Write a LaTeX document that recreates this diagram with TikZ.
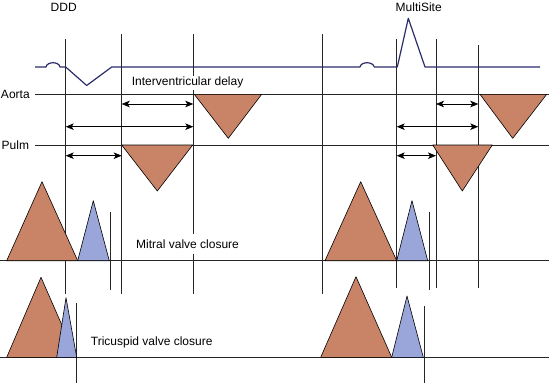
\documentclass[tikz,border=0pt]{standalone}
\usepackage{fontspec}
\setmainfont{Liberation Sans}
\usetikzlibrary{arrows.meta}
\definecolor{valveorange}{HTML}{C98467}
\definecolor{valveblue}{HTML}{9AA6DA}
\definecolor{ecgnavy}{HTML}{2B2D6B}
\begin{document}
\begin{tikzpicture}[x=1pt,y=-1pt,
  guide/.style={draw=black!85, line width=0.8pt},
  ecg/.style={draw=ecgnavy, line width=1.2pt, line join=round},
  wave/.style={draw=black, line width=0.6pt, fill=valveorange, line join=round},
  bluewave/.style={draw=black, line width=0.6pt, fill=valveblue, line join=round},
  lbl/.style={font=\fontsize{12}{14}\selectfont, inner sep=0pt, anchor=base west},
  twoway/.style={draw=black, line width=0.8pt,
    {Stealth[length=8pt,width=6.5pt,inset=2pt]}-{Stealth[length=8pt,width=6.5pt,inset=2pt]}}]
\useasboundingbox (0,0) rectangle (549,383);

% ---- coordinates of guide lines
\coordinate (v1t) at (65.7,39);   \coordinate (v1b) at (65.7,294);
\coordinate (v2t) at (121.7,34);  \coordinate (v2b) at (121.7,294);
\coordinate (v3t) at (193.3,34);  \coordinate (v3b) at (193.3,294);
\coordinate (v4t) at (322.7,34);  \coordinate (v4b) at (322.7,294);
\coordinate (v5t) at (396.7,39);  \coordinate (v5b) at (396.7,288);
\coordinate (v6t) at (436,39);    \coordinate (v6b) at (436,288);
\coordinate (v7t) at (478.3,45);  \coordinate (v7b) at (478.3,288);
\coordinate (mlt) at (110,211.7); \coordinate (mlb) at (110,290);
\coordinate (mrt) at (429.3,211.7); \coordinate (mrb) at (429.3,290);
\coordinate (tlt) at (76.7,303.3); \coordinate (tlb) at (76.7,383);
\coordinate (trt) at (424,306);   \coordinate (trb) at (424,383);
\coordinate (aol) at (35,94.3);   \coordinate (aor) at (549,94.3);
\coordinate (pul) at (35,145);    \coordinate (pur) at (549,145);
\coordinate (mil) at (0,260.7);   \coordinate (mir) at (549,260.7);
\coordinate (tril) at (0,357.3);  \coordinate (trir) at (549,357.3);

\foreach \a/\b in {v1t/v1b,v2t/v2b,v3t/v3b,v4t/v4b,v5t/v5b,v6t/v6b,v7t/v7b,
                   mlt/mlb,mrt/mrb,tlt/tlb,trt/trb,aol/aor,pul/pur,mil/mir,tril/trir}
  \draw[guide] (\a) -- (\b);

% ---- ECG trace
\draw[ecg] (35,67) -- (46,67) .. controls (47,61.3) and (59,61.3) .. (60,67)
  -- (65.7,67) -- (86.7,85.5) -- (111.7,67) -- (360,67)
  .. controls (361,61.3) and (373,61.3) .. (374.3,67)
  -- (397.3,67) -- (408.3,18.3) -- (425,67) -- (540,67);

% ---- labels
\node[lbl] (ddd) at (50.5,11) {DDD};
\node[lbl] (ms) at (395.5,11) {MultiSite};
\node[lbl] (aorta) at (0.8,98.5) {Aorta};
\node[lbl] (pulm) at (1.5,149.3) {Pulm};
\node[lbl, fill=white, inner xsep=1.5pt, inner ysep=1.5pt] (ivd) at (130.2,85.7) {Interventricular delay};
\node[lbl, fill=white, inner xsep=2pt, inner ysep=6pt] (mvc) at (134,248.3) {Mitral valve closure};
\node[lbl] (tvc) at (90.7,345) {Tricuspid valve closure};

% ---- ejection triangles
\draw[wave] (194.3,94.3) -- (261.7,94.3) -- (228.3,138.3) -- cycle;
\draw[wave] (121.7,145) -- (192.7,145) -- (157.3,191) -- cycle;
\draw[wave] (480,94.3) -- (546.7,94.3) -- (512.7,138.3) -- cycle;
\draw[wave] (432.7,145) -- (492.3,145) -- (462.3,191) -- cycle;

% ---- valve triangles
\draw[wave] (6.7,260.7) -- (77.7,260.7) -- (42,181.7) -- cycle;
\draw[bluewave] (77.7,260.7) -- (109.3,260.7) -- (93.3,200.7) -- cycle;
\draw[wave] (325,260.7) -- (396.7,260.7) -- (360.7,181.7) -- cycle;
\draw[bluewave] (396.7,260.7) -- (427.7,260.7) -- (412,200.7) -- cycle;
\draw[wave] (6.7,357.3) -- (76,357.3) -- (41,277.3) -- cycle;
\draw[bluewave] (56.7,357.3) -- (76.7,357.3) -- (66,297.7) -- cycle;
\draw[wave] (320.7,357.3) -- (391.7,357.3) -- (356,276.7) -- cycle;
\draw[bluewave] (391.7,357.3) -- (423.3,357.3) -- (407,296) -- cycle;

% ---- delay arrows
\coordinate (a1l) at (121.7,104);  \coordinate (a1r) at (193.3,104);
\coordinate (a2l) at (65.7,126.7); \coordinate (a2r) at (193.3,126.7);
\coordinate (a3l) at (65.7,155.7); \coordinate (a3r) at (121.7,155.7);
\coordinate (b1l) at (436,104);    \coordinate (b1r) at (478.3,104);
\coordinate (b2l) at (396.7,126.7);\coordinate (b2r) at (478.3,126.7);
\coordinate (b3l) at (396.7,155.7);\coordinate (b3r) at (436,155.7);
\foreach \a/\b in {a1l/a1r,a2l/a2r,a3l/a3r,b1l/b1r,b2l/b2r,b3l/b3r}
  \draw[twoway] (\a) -- (\b);
\end{tikzpicture}
\end{document}
